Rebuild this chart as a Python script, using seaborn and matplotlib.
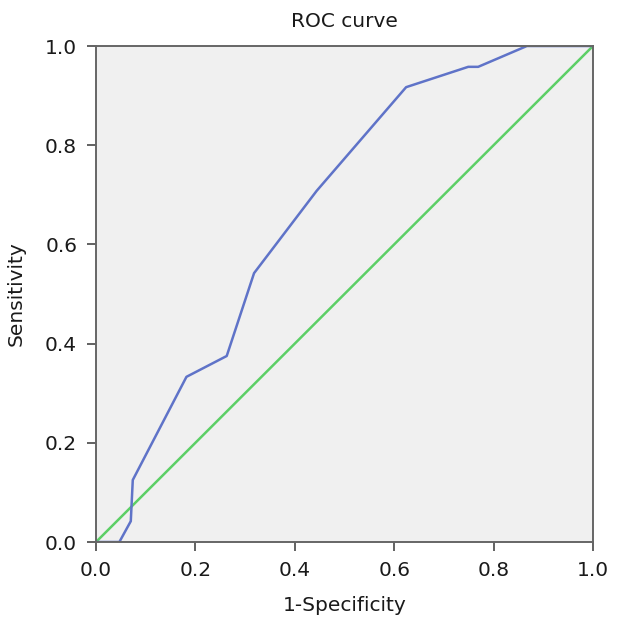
import seaborn as sns
import matplotlib.pyplot as plt

# ROC curve points
fpr = [0.0, 0.047, 0.070, 0.074, 0.182, 0.263, 0.318, 0.444, 0.624, 0.749, 0.769, 0.867, 1.0]
tpr = [0.0, 0.0, 0.042, 0.125, 0.333, 0.375, 0.542, 0.708, 0.917, 0.958, 0.958, 1.0, 1.0]
ref_x = [0.0, 1.0]
ref_y = [0.0, 1.0]
ticks = [0.0, 0.2, 0.4, 0.6, 0.8, 1.0]

sns.set_theme(style='white')
plt.rcParams['font.family'] = ['DejaVu Sans']

fig = plt.figure(figsize=(6.19, 6.28), dpi=100)
ax = fig.add_axes([96 / 619, 1 - 542 / 628, 497 / 619, 496 / 628])
ax.set_facecolor('#f0f0f0')

sns.lineplot(x=ref_x, y=ref_y, ax=ax, color='#5ccf66', linewidth=1.8, sort=False, estimator=None)
sns.lineplot(x=fpr, y=tpr, ax=ax, color='#5f73c8', linewidth=1.8, sort=False, estimator=None)

ax.set_xlim(0, 1)
ax.set_ylim(0, 1)
ax.set_xticks(ticks)
ax.set_yticks(ticks)
ax.set_xticklabels(['{:.1f}'.format(t) for t in ticks])
ax.set_yticklabels(['{:.1f}'.format(t) for t in ticks])
ax.tick_params(axis='both', which='major', labelsize=14.5, length=6.5, width=1.3,
               color='#555555', direction='out', bottom=True, left=True, pad=7,
               labelcolor='#1a1a1a')
for s in ax.spines.values():
    s.set_color('#666666')
    s.set_linewidth(1.4)

ax.set_title('ROC curve', fontsize=14.5, pad=14, color='#1a1a1a')
ax.set_xlabel('1-Specificity', fontsize=14.5, labelpad=12, color='#1a1a1a')
ax.set_ylabel('Sensitivity', fontsize=14.5, labelpad=14, color='#1a1a1a')

fig.savefig('out.png', dpi=100)
